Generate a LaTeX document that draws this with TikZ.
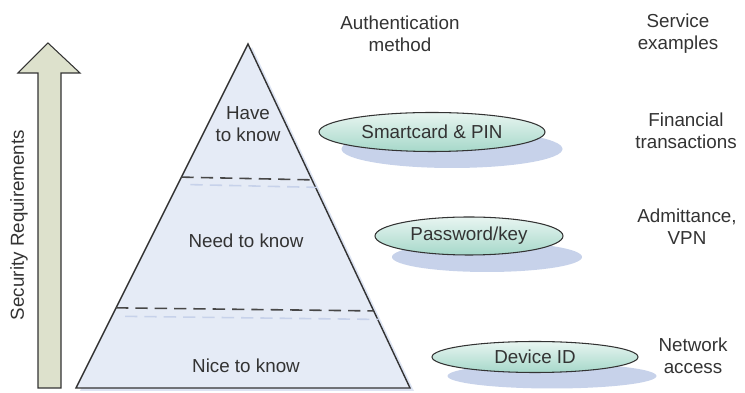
\documentclass[tikz,border=0pt]{standalone}
\usepackage{fontspec}
\setmainfont{Liberation Sans}
\usetikzlibrary{calc}
\usetikzlibrary{positioning}
\usetikzlibrary{shapes.geometric}

\definecolor{pyrfill}{HTML}{E5EBF6}
\definecolor{pyrshade}{HTML}{C7D2EA}
\definecolor{ovaltop}{HTML}{E8F5F1}
\definecolor{ovalbot}{HTML}{A6D8CA}
\definecolor{arrowfill}{HTML}{DDE1CC}
\definecolor{ink}{HTML}{333333}

\tikzset{
  lbl/.style={align=center,text=ink,font=\fontsize{10.7}{12.6}\selectfont,inner sep=0pt},
  oval/.style={ellipse,draw=ink,line width=0.6pt,top color=ovaltop,bottom color=ovalbot,inner sep=0pt,text=ink,font=\fontsize{10.7}{12.6}\selectfont},
  ovalshade/.style={ellipse,fill=pyrshade,inner sep=0pt},
  sep/.style={draw=ink!90,line width=0.9pt,dash pattern=on 7pt off 4pt},
  sepshade/.style={draw=pyrshade,line width=0.9pt,dash pattern=on 7pt off 4pt},
}

\begin{document}
\begin{tikzpicture}
\useasboundingbox (0,0) rectangle (14.9,7.86);

% arrow on the left
\draw[draw=ink,line width=0.6pt,fill=arrowfill] (0.76,0.10) -- (0.76,6.40) -- (0.36,6.40) -- (0.96,7.00) -- (1.60,6.40) -- (1.22,6.40) -- (1.22,0.10) -- cycle;
\node[lbl,rotate=90] (secreq) at (0.38,3.36) {Security Requirements};

% pyramid
\coordinate (apex) at (4.96,6.98);
\coordinate (bl) at (1.52,0.10);
\coordinate (br) at (8.20,0.10);
\fill[pyrshade!60] ($(apex)+(0.08,-0.06)$) -- ($(br)+(0.08,-0.06)$) -- ($(bl)+(0.08,-0.06)$) -- cycle;
\draw[draw=ink,line width=0.8pt,fill=pyrfill] (apex) -- (br) -- (bl) -- cycle;

\coordinate (a) at ($(apex)!0.387!(bl)$);
\coordinate (b) at ($(apex)!0.395!(br)$);
\coordinate (c) at ($(apex)!0.767!(bl)$);
\coordinate (d) at ($(apex)!0.776!(br)$);
\draw[sepshade] ($(a)+(0.18,-0.15)$) -- ($(b)+(0.10,-0.15)$);
\draw[sepshade] ($(c)+(0.18,-0.17)$) -- ($(d)+(0.10,-0.17)$);
\draw[sep] (a) -- (b);
\draw[sep] (c) -- (d);

\node[lbl] (have) at (4.96,5.38) {Have\\to know};
\node[lbl] (need) at (4.92,3.04) {Need to know};
\node[lbl] (nice) at (4.92,0.54) {Nice to know};

% authentication methods
\node[ovalshade,minimum width=4.42cm,minimum height=0.76cm] (smartsh) at (9.04,4.88) {};
\node[oval,minimum width=4.52cm,minimum height=0.78cm] (smart) at (8.64,5.22) {Smartcard \& PIN};
\node[ovalshade,minimum width=3.80cm,minimum height=0.60cm] (passsh) at (9.74,2.72) {};
\node[oval,minimum width=3.76cm,minimum height=0.76cm] (pass) at (9.38,3.14) {Password/key};
\node[ovalshade,minimum width=4.18cm,minimum height=0.50cm] (devsh) at (11.04,0.34) {};
\node[oval,minimum width=4.12cm,minimum height=0.62cm] (dev) at (10.70,0.72) {Device ID};

% headings and services
\node[lbl] (auth) at (8.00,7.18) {Authentication\\method};
\node[lbl] (serv) at (13.56,7.18) {Service\\examples};
\node[lbl] (fin) at (13.72,5.24) {Financial\\transactions};
\node[lbl] (vpn) at (13.74,3.32) {Admittance,\\VPN};
\node[lbl] (net) at (13.86,0.74) {Network\\access};

\end{tikzpicture}
\end{document}
